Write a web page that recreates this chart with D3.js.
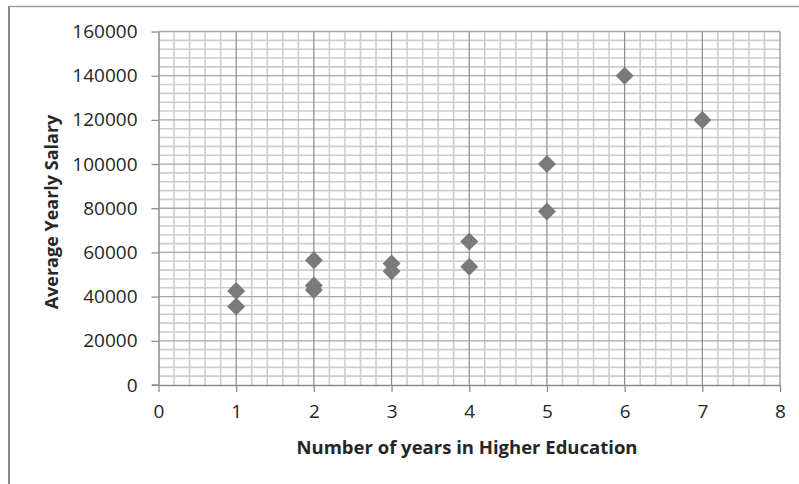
<!DOCTYPE html>
<html><head><meta charset="utf-8">
<script src="https://cdn.jsdelivr.net/npm/d3@7"></script>
<style>body{margin:0;background:#fff}svg{display:block}text{font-family:"Open Sans",sans-serif;fill:#262626}</style>
</head><body><svg id="c" width="799" height="484"></svg>
<script>
const years = [1, 1, 2, 2, 2, 3, 3, 4, 4, 5, 5, 6, 7];
const salaries = [42500, 35500, 56500, 45000, 43000, 55000, 51500, 65000, 53500, 100000, 78500, 140000, 120000];
const xTicks = [0, 1, 2, 3, 4, 5, 6, 7, 8];
const yTicks = [0, 20000, 40000, 60000, 80000, 100000, 120000, 140000, 160000];
const xTitle = "Number of years in Higher Education";
const yTitle = "Average Yearly Salary";

const svg = d3.select("#c");
const x = d3.scaleLinear().domain([0, 8]).range([158.5, 780]);
const y = d3.scaleLinear().domain([0, 160000]).range([385, 31.5]);

// outer border
svg.append("line").attr("x1", 9).attr("x2", 9).attr("y1", 6).attr("y2", 484).attr("stroke", "#8a8a8a").attr("stroke-width", 2);
svg.append("line").attr("x1", 9).attr("x2", 799).attr("y1", 6.5).attr("y2", 6.5).attr("stroke", "#a0a0a0").attr("stroke-width", 1.5);

const g = svg.append("g");
// minor grid
const xMinor = d3.range(0, 8.0001, 0.2).filter(v => Math.abs(v - Math.round(v)) > 1e-6);
const yMinor = d3.range(0, 160001, 4000).filter(v => v % 20000 !== 0);
g.selectAll(".vm").data(xMinor).join("line")
  .attr("x1", d => x(d)).attr("x2", d => x(d)).attr("y1", y(160000)).attr("y2", y(0))
  .attr("stroke", "#cdcdcd").attr("stroke-width", 1.6);
g.selectAll(".hm").data(yMinor).join("line")
  .attr("x1", x(0)).attr("x2", x(8)).attr("y1", d => y(d)).attr("y2", d => y(d))
  .attr("stroke", "#cdcdcd").attr("stroke-width", 1.6);
// major grid
g.selectAll(".hM").data(yTicks.slice(1)).join("line")
  .attr("x1", x(0)).attr("x2", x(8)).attr("y1", d => y(d)).attr("y2", d => y(d))
  .attr("stroke", "#a8a8a8").attr("stroke-width", 1.3);
g.selectAll(".vM").data(xTicks.slice(1)).join("line")
  .attr("x1", d => x(d)).attr("x2", d => x(d)).attr("y1", y(160000)).attr("y2", y(0))
  .attr("stroke", "#8c8c8c").attr("stroke-width", 1.2);

// axes
const xAxis = svg.append("g").attr("transform", `translate(0,${y(0)})`)
  .call(d3.axisBottom(x).tickValues(xTicks).tickSize(7).tickPadding(13).tickSizeOuter(0));
const yAxis = svg.append("g").attr("transform", `translate(${x(0)},0)`)
  .call(d3.axisLeft(y).tickValues(yTicks).tickSize(7).tickPadding(14).tickFormat(d3.format("d")).tickSizeOuter(0));
[xAxis, yAxis].forEach(a => {
  a.select(".domain").attr("stroke", "#8c8c8c").attr("stroke-width", 1.5);
  a.selectAll(".tick line").attr("stroke", "#8c8c8c").attr("stroke-width", 1.3);
  a.selectAll("text").style("font-family", '"Open Sans",sans-serif').style("font-size", "19px").attr("fill", "#262626");
});
// extend x axis line slightly left, like the original
svg.append("line").attr("x1", 152).attr("x2", x(0)).attr("y1", y(0)).attr("y2", y(0)).attr("stroke", "#8c8c8c").attr("stroke-width", 1.5);

// points
const sym = d3.symbol().type(d3.symbolSquare).size(162);
svg.append("g").selectAll("path").data(years.map((v, i) => [v, salaries[i]])).join("path")
  .attr("d", sym)
  .attr("transform", d => `translate(${x(d[0])},${y(d[1])}) rotate(45)`)
  .attr("fill", "#7a7a7a");

// titles
svg.append("text").attr("x", 467).attr("y", 454).attr("text-anchor", "middle")
  .style("font-weight", "bold").style("font-size", "18.5px").text(xTitle);
svg.append("text").attr("transform", "translate(58,212) rotate(-90)").attr("text-anchor", "middle")
  .style("font-weight", "bold").style("font-size", "18px").text(yTitle);
</script></body></html>
